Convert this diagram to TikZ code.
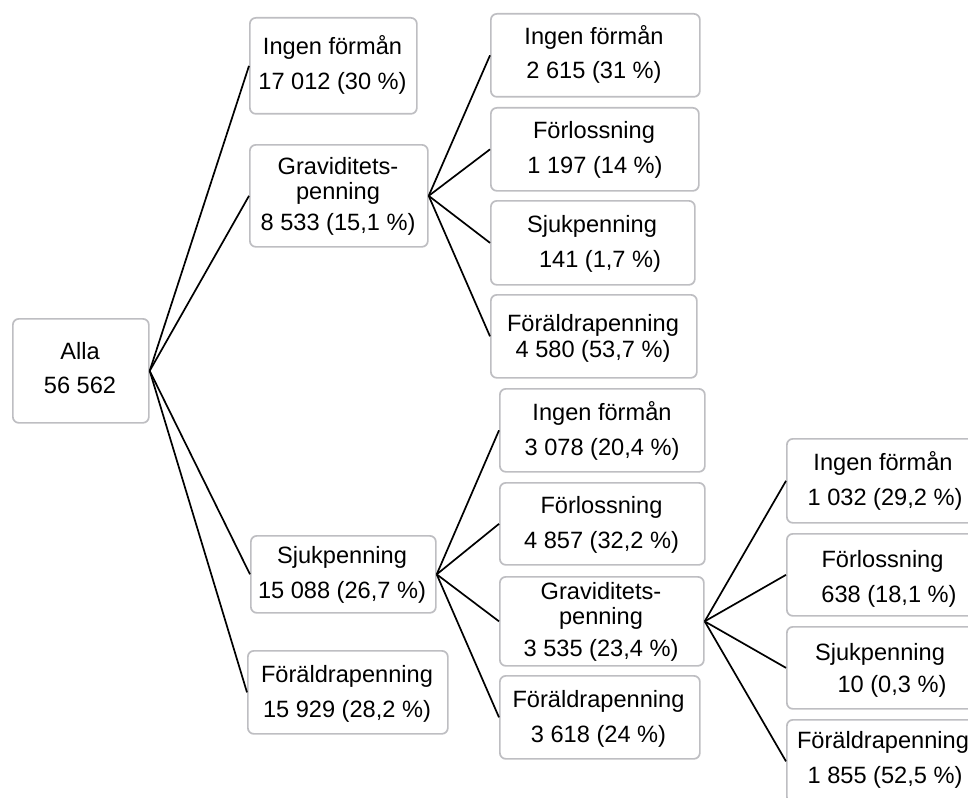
\documentclass[tikz,border=0pt]{standalone}
\usepackage{fontspec}
\setmainfont{Liberation Sans}
\newcommand\mkbox[5]{\node[box, anchor=north west, minimum width={(#4-#2)*1pt}, minimum height={(#5-#3)*1pt}] (#1) at (#2,#3) {};}
\begin{document}
\begin{tikzpicture}[x=1pt,y=-1pt,
  box/.style={draw=boxgray, line width=1.7pt, rounded corners=6pt, inner sep=0pt, fill=white},
  txt/.style={anchor=base, inner sep=0pt, font=\fontsize{23.6}{28}\selectfont},
  conn/.style={draw=black, line width=1.7pt}]
\definecolor{boxgray}{RGB}{190,190,194}
\useasboundingbox (0,0) rectangle (968,797);
\clip (0,0) rectangle (968,797);
% boxes
\mkbox{A}{12}{318}{148}{422}
\mkbox{B1}{249}{17}{416}{113}
\mkbox{B2}{249}{144}{427}{246}
\mkbox{B3}{250}{535}{435}{612}
\mkbox{B4}{247}{650}{447}{733}
\mkbox{C1}{490}{13}{699}{96}
\mkbox{C2}{490}{107}{698}{190}
\mkbox{C3}{490}{200}{694}{284}
\mkbox{C4}{490}{294}{696}{377}
\mkbox{D1}{499}{388}{704}{471}
\mkbox{D2}{499}{482}{704}{564}
\mkbox{D3}{499}{576}{703}{665}
\mkbox{D4}{499}{675}{699}{758}
\mkbox{E1}{786}{438}{982}{522}
\mkbox{E2}{786}{533}{982}{615}
\mkbox{E3}{786}{626}{982}{708}
\mkbox{E4}{786}{719}{982}{802}
% connectors
\foreach \c in {B1,B2,B3,B4} \draw[conn] (A.east) -- (\c.west);
\foreach \c in {C1,C2,C3,C4} \draw[conn] (B2.east) -- (\c.west);
\foreach \c in {D1,D2,D3,D4} \draw[conn] (B3.east) -- (\c.west);
\foreach \c in {E1,E2,E3,E4} \draw[conn] (D3.east) -- (\c.west);
% texts
\node[txt] (tA1) at (80,359) {Alla};
\node[txt] (tA2) at (80,393) {56 562};
\node[txt] (tB11) at (332.5,55) {Ingen förmån};
\node[txt] (tB12) at (332.5,90) {17 012 (30 \%)};
\node[txt] (tB21) at (338,174) {Graviditets-};
\node[txt] (tB22) at (338,199) {penning};
\node[txt] (tB23) at (338,230) {8 533 (15,1 \%)};
\node[txt] (tB31) at (342,563) {Sjukpenning};
\node[txt] (tB32) at (342,598) {15 088 (26,7 \%)};
\node[txt] (tB41) at (347,682) {Föräldrapenning};
\node[txt] (tB42) at (347,717) {15 929 (28,2 \%)};
\node[txt] (tC11) at (594,45) {Ingen förmån};
\node[txt] (tC12) at (594,79) {2 615 (31 \%)};
\node[txt] (tC21) at (594,138) {Förlossning};
\node[txt] (tC22) at (595,173) {1 197 (14 \%)};
\node[txt] (tC31) at (592,232) {Sjukpenning};
\node[txt] (tC32) at (600,267) {141 (1,7 \%)};
\node[txt] (tC41) at (593,331) {Föräldrapenning};
\node[txt] (tC42) at (593,357) {4 580 (53,7 \%)};
\node[txt] (tD11) at (602,420) {Ingen förmån};
\node[txt] (tD12) at (602,455) {3 078 (20,4 \%)};
\node[txt] (tD21) at (601.5,513) {Förlossning};
\node[txt] (tD22) at (601.5,548) {4 857 (32,2 \%)};
\node[txt] (tD31) at (601,599) {Graviditets-};
\node[txt] (tD32) at (601,624) {penning};
\node[txt] (tD33) at (601,656) {3 535 (23,4 \%)};
\node[txt] (tD41) at (598.5,707) {Föräldrapenning};
\node[txt] (tD42) at (598.5,742) {3 618 (24 \%)};
\node[txt] (tE11) at (883,470) {Ingen förmån};
\node[txt] (tE12) at (885,505) {1 032 (29,2 \%)};
\node[txt] (tE21) at (882.5,567) {Förlossning};
\node[txt] (tE22) at (889,602) {638 (18,1 \%)};
\node[txt] (tE31) at (880,660) {Sjukpenning};
\node[txt] (tE32) at (892,692) {10 (0,3 \%)};
\node[txt] (tE41) at (883,748) {Föräldrapenning};
\node[txt] (tE42) at (885,783) {1 855 (52,5 \%)};
\end{tikzpicture}
\end{document}
